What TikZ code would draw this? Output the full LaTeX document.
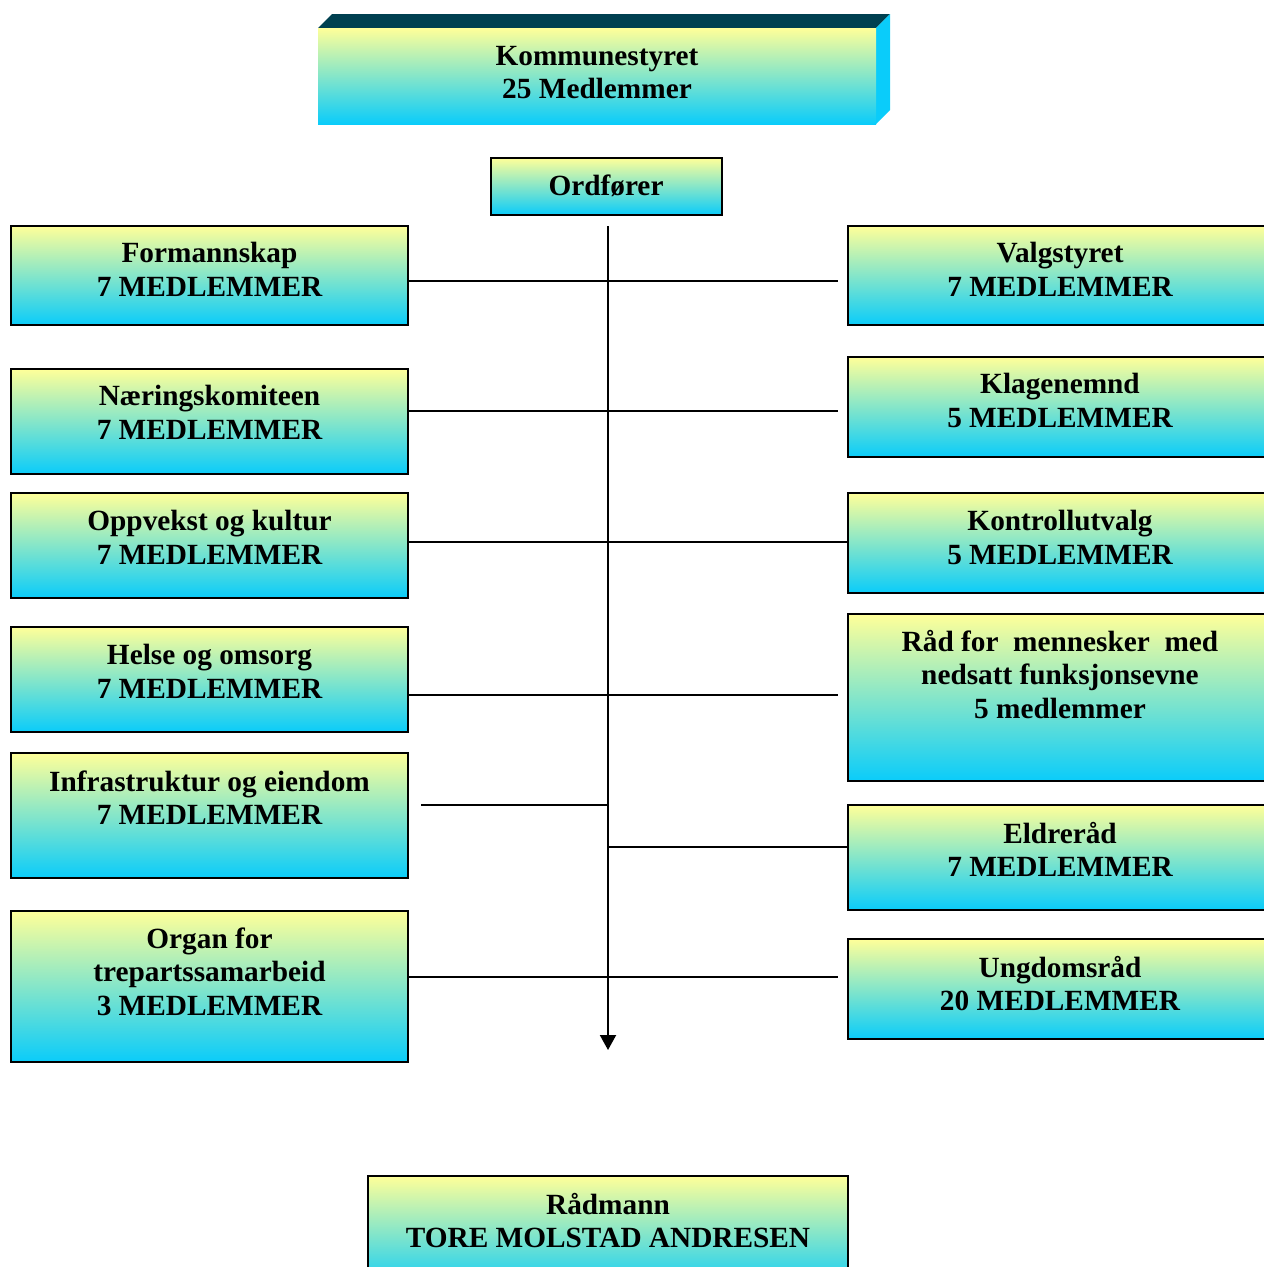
\documentclass[tikz,border=0pt]{standalone}
\usepackage{fontspec}
\setmainfont{Liberation Serif}
\usetikzlibrary{arrows.meta}
\definecolor{ylw}{RGB}{255,255,153}
\definecolor{cyn}{RGB}{10,204,250}
\definecolor{topface}{RGB}{0,64,80}
\tikzset{
  box/.style={draw=black, line width=2pt, rectangle, top color=ylw, bottom color=cyn, inner sep=0pt},
  txt/.style={align=center, inner sep=0pt, font=\bfseries\fontsize{29.3}{33.5}\selectfont},
  conn/.style={line width=2pt, draw=black}
}
\newcommand{\bx}[5]{% name, x1, y1, x2, y2
  \node[box, minimum width={(#4-#2)*1pt}, minimum height={(#5-#3)*1pt}] (#1) at ({(#2+#4)/2},{(#3+#5)/2}) {};}
\begin{document}
\begin{tikzpicture}[x=1pt,y=-1pt]
\useasboundingbox (0,0) rectangle (1264,1267);
% Kommunestyret 3D box
\fill[topface] (318,28) -- (332,14) -- (890,14) -- (876,28) -- cycle;
\fill[cyn] (876,28) -- (890,14) -- (890,110) -- (876,124) -- cycle;
\node[rectangle, top color=ylw, bottom color=cyn, minimum width=558pt, minimum height=96pt, inner sep=0pt] (komm) at (597,76) {};
\node[txt] (kommt) at (597,72.5) {Kommunestyret\\25 Medlemmer};
% Ordforer
\bx{ord}{491}{158}{722}{215}
\node[txt] (ordt) at (606,185.5) {Ordfører};
% left boxes
\bx{form}{11}{226}{408}{325}
\node[txt] (formt) at (209.5,269.5) {Formannskap\\7 MEDLEMMER};
\bx{naer}{11}{369}{408}{474}
\node[txt] (naert) at (209.5,412.5) {Næringskomiteen\\7 MEDLEMMER};
\bx{oppv}{11}{493}{408}{598}
\node[txt] (oppvt) at (209.5,537.5) {Oppvekst og kultur\\7 MEDLEMMER};
\bx{hels}{11}{627}{408}{732}
\node[txt] (helst) at (209.5,671.5) {Helse og omsorg\\7 MEDLEMMER};
\bx{infr}{11}{753}{408}{878}
\node[txt] (infrt) at (209.5,797.5) {Infrastruktur og eiendom\\7 MEDLEMMER};
\bx{orga}{11}{911}{408}{1062}
\node[txt] (orgat) at (209.5,971.5) {Organ for\\trepartssamarbeid\\3 MEDLEMMER};
% right boxes
\bx{valg}{848}{226}{1274}{325}
\node[txt] (valgt) at (1060,269.5) {Valgstyret\\7 MEDLEMMER};
\bx{klag}{848}{357}{1274}{457}
\node[txt] (klagt) at (1060,400.5) {Klagenemnd\\5 MEDLEMMER};
\bx{kont}{848}{493}{1274}{593}
\node[txt] (kontt) at (1060,537.5) {Kontrollutvalg\\5 MEDLEMMER};
\bx{raad}{848}{614}{1274}{781}
\node[txt] (raadt) at (1060,674.5) {Råd for\ \ mennesker\ \ med\\nedsatt funksjonsevne\\5 medlemmer};
\bx{eldr}{848}{805}{1274}{910}
\node[txt] (eldrt) at (1060,849.5) {Eldreråd\\7 MEDLEMMER};
\bx{ungd}{848}{939}{1274}{1039}
\node[txt] (ungdt) at (1060,983.5) {Ungdomsråd\\20 MEDLEMMER};
% Radmann
\bx{radm}{368}{1176}{848}{1290}
\node[txt] (radmt) at (608,1220.5) {Rådmann\\TORE MOLSTAD ANDRESEN};
% spine
\coordinate (stop) at (608,226);
\coordinate (sbot) at (608,1050);
\draw[conn, -{Triangle[width=16pt,length=15pt]}] (stop) -- (sbot);
% connectors
\coordinate (c1) at (838,281);
\coordinate (c2) at (838,411);
\coordinate (c4) at (838,695);
\coordinate (c5) at (421,805);
\coordinate (s5) at (608,805);
\coordinate (s6) at (608,847);
\coordinate (c7) at (838,977);
\draw[conn] (form.east |- c1) -- (c1);
\draw[conn] (naer.east |- c2) -- (c2);
\draw[conn] (oppv.east |- 0,542) -- (kont.west |- 0,542);
\draw[conn] (hels.east |- c4) -- (c4);
\draw[conn] (c5) -- (s5);
\draw[conn] (s6) -- (eldr.west |- s6);
\draw[conn] (orga.east |- c7) -- (c7);
\end{tikzpicture}
\end{document}
